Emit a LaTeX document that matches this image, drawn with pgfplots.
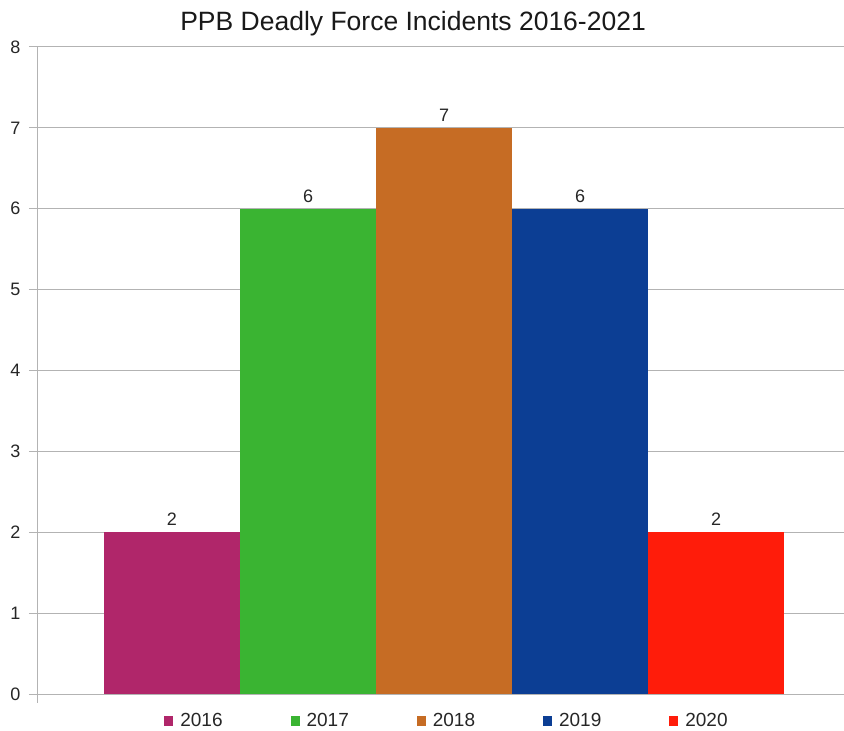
\documentclass[border=0pt]{standalone}
\usepackage{fontspec}
\setmainfont{Liberation Sans}
\usepackage{pgfplots}
\pgfplotsset{compat=1.18}

\definecolor{c2016}{HTML}{B0266A}
\definecolor{c2017}{HTML}{3AB432}
\definecolor{c2018}{HTML}{C66C24}
\definecolor{c2019}{HTML}{0C3E94}
\definecolor{c2020}{HTML}{FF1C0A}
\definecolor{gridgray}{HTML}{B3B3B3}

\begin{document}
\begin{tikzpicture}
\begin{axis}[
  name=ax,
  scale only axis,
  width=807bp, height=647bp,
  xmin=0.0074, xmax=5.941,
  ymin=0, ymax=8,
  ytick={0,1,...,8},
  xtick=\empty,
  axis x line=none,
  axis y line*=left,
  axis line style={gridgray, line width=1pt},
  ymajorgrids,
  grid style={gridgray, line width=1pt},
  tick style={gridgray, line width=1pt},
  tick align=outside,
  major tick length=8bp,
  /pgf/number format/assume math mode=true,
  tick label style={font=\fontsize{18bp}{20bp}\selectfont, text=black!85},
  yticklabel style={xshift=-5bp},
  ybar, bar width=1,
  every axis plot/.append style={bar shift=0pt, draw=none},
  nodes near coords,
  every node near coord/.append style={font=\fontsize{18bp}{20bp}\selectfont, text=black!85, yshift=3bp},
  clip=false,
  title={PPB Deadly Force Incidents 2016-2021},
  title style={at={(rel axis cs:0.466,1)}, anchor=base, yshift=11bp,
    font=\fontsize{26.5bp}{28bp}\selectfont, text=black!90},
  legend columns=5,
  legend style={at={(rel axis cs:0.508,0)}, anchor=center, yshift=-27bp,
    draw=none, fill=none,
    font=\fontsize{19bp}{21bp}\selectfont, text=black!85,
    /tikz/every even column/.append style={column sep=66bp}},
  legend image code/.code={\fill[#1] (0bp,-4.5bp) rectangle (9bp,4.5bp); \path (14bp,0bp);},
]
\addplot[fill=c2016] coordinates {(1,2)};
\addplot[fill=c2017] coordinates {(2,6)};
\addplot[fill=c2018] coordinates {(3,7)};
\addplot[fill=c2019] coordinates {(4,6)};
\addplot[fill=c2020] coordinates {(5,2)};
\legend{2016,2017,2018,2019,2020}
% short stub of the y axis below the zero line
\draw[gridgray, line width=1pt] (rel axis cs:0,0) -- ([yshift=-9bp]rel axis cs:0,0);
\end{axis}
\pgfresetboundingbox
\path[use as bounding box] ([shift={(-37bp,-37bp)}]ax.south west) rectangle ([shift={(0bp,47bp)}]ax.north east);
\end{tikzpicture}
\end{document}
